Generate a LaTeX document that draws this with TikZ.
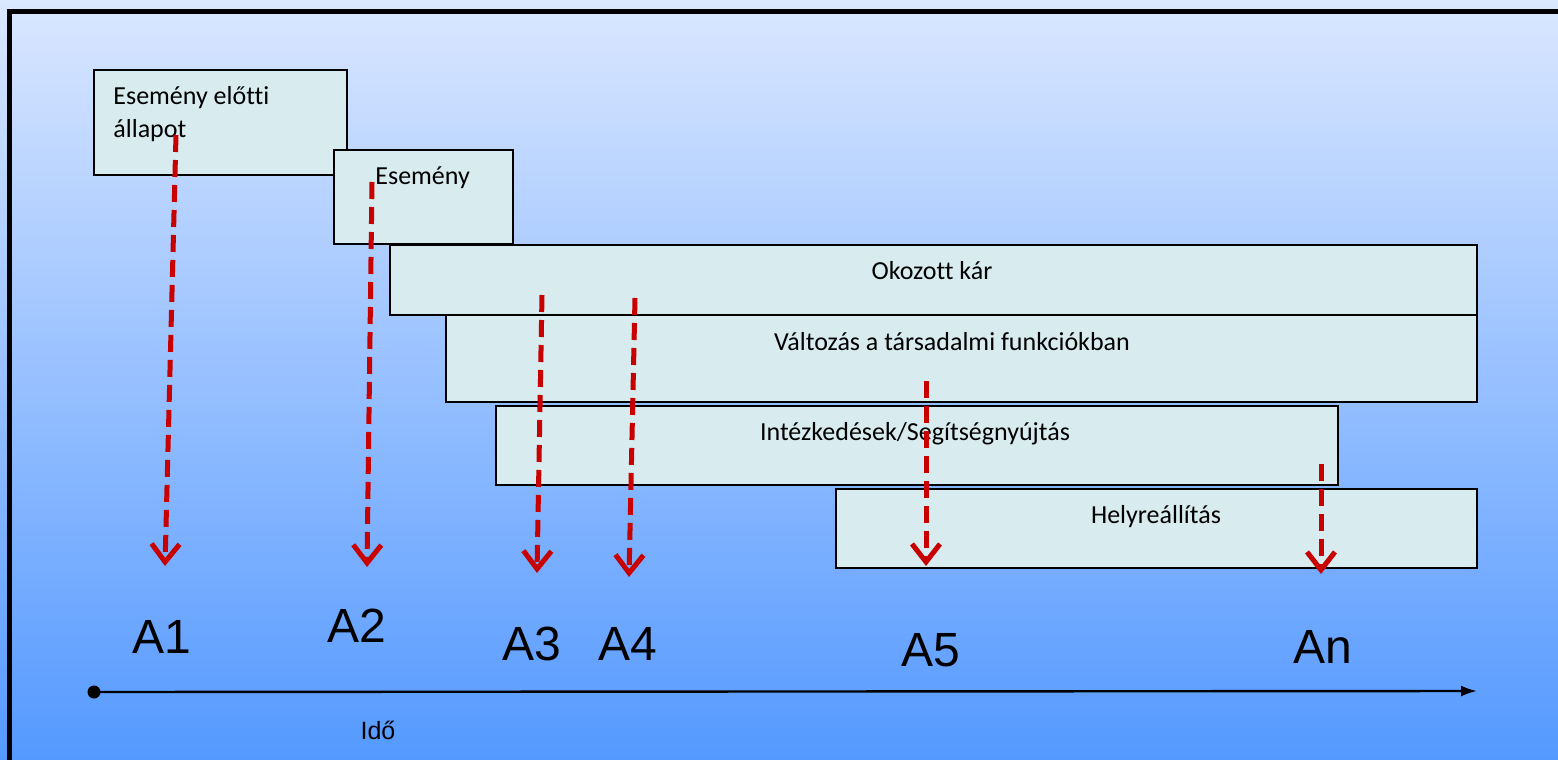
\documentclass[tikz,border=0pt]{standalone}
\usepackage{fontspec}
\setmainfont{Carlito}[Ligatures=NoCommon]
\newfontfamily\arialf{Liberation Sans}
\usepackage{xcolor}
\usepackage{tikz}
\usetikzlibrary{arrows.meta,positioning}

\definecolor{bgtop}{RGB}{218,231,255}
\definecolor{bgbot}{RGB}{84,153,255}
\definecolor{boxfill}{RGB}{216,236,239}
\definecolor{arrred}{RGB}{200,0,0}

\begin{document}
\begin{tikzpicture}[
  x=0.5pt, y=-0.5pt,
  phase/.style={draw, fill=boxfill, line width=1pt, anchor=north west,
    inner sep=0pt},
  txt/.style={inner sep=0pt, font=\fontsize{13}{16.5}\selectfont},
  alab/.style={inner sep=0pt, anchor=base, font=\arialf\fontsize{24}{28}\selectfont},
  arr/.style={draw=arrred, line width=2.5pt, dash pattern=on 8.5pt off 4pt,
    -{Straight Barb[length=9pt, width=14pt]}},
  axis/.style={line width=1.2pt, -{Latex[length=8pt, width=5.5pt]}}
]
  \useasboundingbox (0,0) rectangle (1558,760);
  \shade[top color=bgtop, bottom color=bgbot] (0,0) rectangle (1558,760);
  \draw[line width=2.5pt] (1558,11.5) -- (9.5,11.5) -- (9.5,760);

  % phases
  \node[phase, minimum width=126.5pt, minimum height=52.5pt] (pre) at (93,69) {};
  \node[phase, minimum width=89.5pt, minimum height=47pt] (event) at (333,149) {};
  \node[phase, minimum width=543.5pt, minimum height=35pt] (damage) at (389,244) {};
  \node[phase, minimum width=515.5pt, minimum height=43.5pt] (social) at (445,314) {};
  \node[phase, minimum width=421pt, minimum height=39.5pt] (relief) at (495,405) {};
  \node[phase, minimum width=320.5pt, minimum height=39.5pt] (recov) at (835,488) {};

  \node[txt, anchor=base west, align=left] (pretxt) at (113,137) {Esemény előtti\\állapot};
  \node[txt, anchor=base west] (eventtxt) at (375,184) {Esemény};
  \node[txt, anchor=base] (damagetxt) at (932,279) {Okozott kár};
  \node[txt, anchor=base] (socialtxt) at (952,350) {Változás a társadalmi funkciókban};
  \node[txt, anchor=base] (relieftxt) at (915,440) {Intézkedések/Segítségnyújtás};
  \node[txt, anchor=base] (recovtxt) at (1156,523) {Helyreállítás};

  % time axis
  \node[circle, fill, inner sep=0pt, minimum size=6.5pt] (t0) at (94,692) {};
  \coordinate (t1) at (1477,691);
  \draw[axis] (t0.center) -- (t1);
  \node[inner sep=0pt, anchor=base, font=\arialf\fontsize{12.5}{15}\selectfont] (ido) at (378,739) {Idő};

  % assessment points
  \node[alab] (a1) at (162,653) {A1};
  \node[alab] (a2) at (357,642) {A2};
  \node[alab] (a3) at (532,660) {A3};
  \node[alab] (a4) at (628,660) {A4};
  \node[alab] (a5) at (931,666) {A5};
  \node[alab] (an) at (1323,663) {An};

  \coordinate (s1) at (176,135);  \coordinate (e1) at (165,566);
  \coordinate (s2) at (372,182);  \coordinate (e2) at (367,567);
  \coordinate (s3) at (542,295);  \coordinate (e3) at (537,573);
  \coordinate (s4) at (635,298);  \coordinate (e4) at (629,577);
  \coordinate (s5) at (926,381);  \coordinate (e5) at (926,566);
  \coordinate (sn) at (1321,464); \coordinate (en) at (1321,574);

  \draw[arr] (s1) -- (e1);
  \draw[arr] (s2) -- (e2);
  \draw[arr] (s3) -- (e3);
  \draw[arr] (s4) -- (e4);
  \draw[arr] (s5) -- (e5);
  \draw[arr] (sn) -- (en);
\end{tikzpicture}
\end{document}
